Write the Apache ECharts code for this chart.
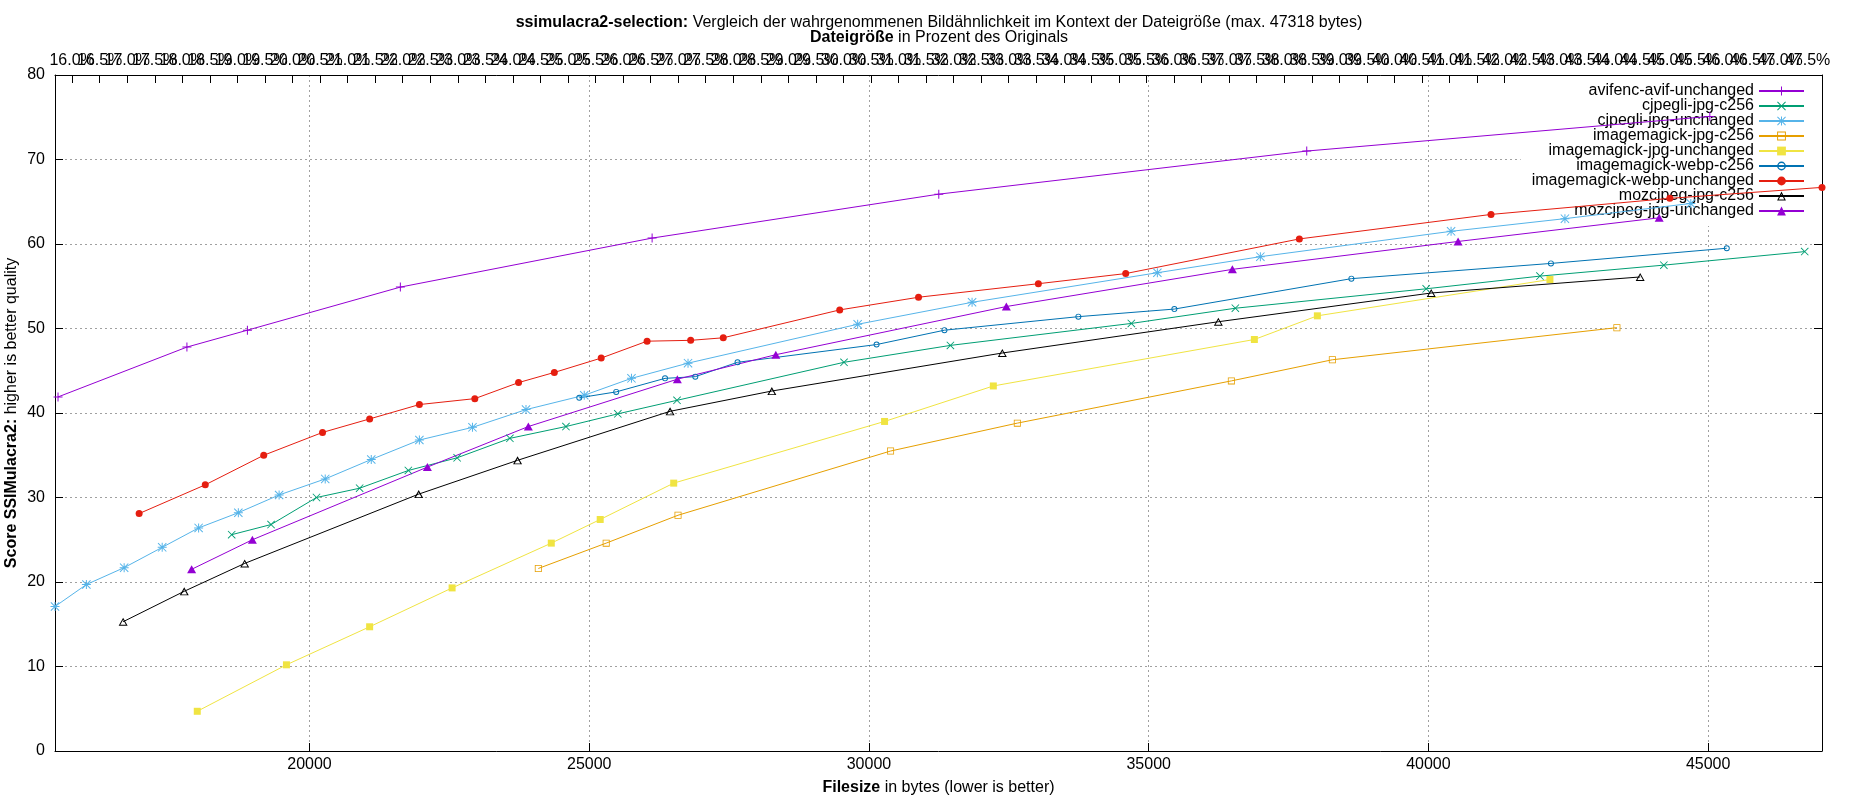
<!DOCTYPE html>
<html>
<head>
<meta charset="utf-8">
<title>ssimulacra2-selection</title>
<script src="https://cdn.jsdelivr.net/npm/echarts@6/dist/echarts.min.js"></script>
<style>
  html, body { margin: 0; padding: 0; background: #fff; }
  #chart { width: 1850px; height: 800px; }
</style>
</head>
<body>
<div id="chart"></div>
<script>
// Dateigröße (bytes) und Score je Encoder
var avifX = [15505, 17809, 18890, 21624, 26124, 31248, 37825, 45030];
var avifY = [41.9, 47.8, 49.8, 54.9, 60.7, 65.9, 71.0, 75.1];

var cjpegliC256X = [18609, 19313, 20125, 20896, 21767, 22639, 23582, 24584, 25511, 26569, 29554, 31456, 34690, 36549, 39960, 41994, 44208, 46726];
var cjpegliC256Y = [25.6, 26.8, 30.0, 31.1, 33.2, 34.7, 37.0, 38.4, 39.9, 41.5, 46.0, 48.0, 50.6, 52.4, 54.7, 56.2, 57.5, 59.1];

var cjpegliUnchX = [15451, 16012, 16687, 17367, 18018, 18728, 19457, 20281, 21104, 21964, 22913, 23870, 24911, 25755, 26766, 29798, 31843, 35155, 36996, 40405, 42440, 44690];
var cjpegliUnchY = [17.1, 19.7, 21.7, 24.1, 26.4, 28.2, 30.3, 32.2, 34.5, 36.8, 38.3, 40.4, 42.1, 44.1, 45.9, 50.5, 53.1, 56.6, 58.5, 61.5, 63.0, 64.8];

var imJpgC256X = [24090, 25303, 26587, 30386, 32652, 36478, 38283, 43369];
var imJpgC256Y = [21.6, 24.6, 27.9, 35.5, 38.8, 43.8, 46.3, 50.1];

var imJpgUnchX = [17994, 19588, 21075, 22549, 24322, 25196, 26510, 30279, 32223, 36889, 38015, 42172];
var imJpgUnchY = [4.7, 10.2, 14.7, 19.3, 24.6, 27.4, 31.7, 39.0, 43.2, 48.7, 51.5, 55.8];

var imWebpC256X = [24822, 25482, 26355, 26896, 27651, 30136, 31349, 33743, 35459, 38623, 42190, 45333];
var imWebpC256Y = [41.8, 42.5, 44.1, 44.3, 46.0, 48.1, 49.8, 51.4, 52.3, 55.9, 57.7, 59.5];

var imWebpUnchX = [16955, 18137, 19182, 20233, 21075, 21964, 22955, 23737, 24376, 25214, 26034, 26813, 27396, 29477, 30886, 33028, 34589, 37693, 41119, 44315, 47035];
var imWebpUnchY = [28.1, 31.5, 35.0, 37.7, 39.3, 41.0, 41.7, 43.6, 44.8, 46.5, 48.5, 48.6, 48.9, 52.2, 53.7, 55.3, 56.5, 60.6, 63.5, 65.4, 66.7];

var mozC256X = [16669, 17761, 18842, 21952, 23719, 26445, 28264, 32384, 36245, 40050, 43785];
var mozC256Y = [15.3, 18.9, 22.2, 30.4, 34.4, 40.2, 42.6, 47.1, 50.8, 54.2, 56.1];

var mozUnchX = [17893, 18979, 22107, 23912, 26575, 28335, 32456, 36496, 40530, 44125];
var mozUnchY = [21.5, 25.0, 33.6, 38.4, 44.0, 46.9, 52.6, 57.0, 60.3, 63.1];

// Achsen
var xMin = 15451;
var xMax = 47035;
var originalBytes = 98480;   // Bezug der oberen Prozentachse
var yTicks = [0, 10, 20, 30, 40, 50, 60, 70, 80];

// gnuplot-artige Punktsymbole (gefuellte Pfade, Loecher per Gegenrichtung)
var SYM_PLUS = 'path://M4,0H5V9H4ZM0,4H9V5H0Z';
var SYM_CROSS = 'path://M0,0.7L0.7,0L9,8.3L8.3,9ZM8.3,0L9,0.7L0.7,9L0,8.3Z';
var SYM_STAR = 'path://M4,0H5V9H4ZM0,4H9V5H0ZM0,0.7L0.7,0L9,8.3L8.3,9ZM8.3,0L9,0.7L0.7,9L0,8.3Z';
var SYM_OSQUARE = 'path://M0,0L9,0L9,9L0,9ZM1,1L1,8L8,8L8,1Z';
var SYM_OCIRCLE = 'path://M0,4.5A4.5,4.5,0,1,1,9,4.5A4.5,4.5,0,1,1,0,4.5ZM1.4,4.5A3.1,3.1,0,1,0,7.6,4.5A3.1,3.1,0,1,0,1.4,4.5Z';
var SYM_OTRI = 'path://M4.5,0L9,8L0,8ZM4.5,2.1L1.7,7.1L7.3,7.1Z';

function zip(xs, ys) {
    var out = [];
    for (var i = 0; i < xs.length; i++) {
        out.push([xs[i], ys[i]]);
    }
    return out;
}

function makeSeries(name, xs, ys, color, symbol, size) {
    return {
        name: name,
        type: 'line',
        xAxisIndex: 0,
        yAxisIndex: 0,
        data: zip(xs, ys),
        symbol: symbol,
        symbolSize: size,
        showAllSymbol: true,
        color: color,
        lineStyle: { color: color, width: 1 },
        itemStyle: { color: color },
        emphasis: { disabled: true },
        z: 3
    };
}

var seriesList = [
    makeSeries('avifenc-avif-unchanged', avifX, avifY, '#9400d3', SYM_PLUS, 9),
    makeSeries('cjpegli-jpg-c256', cjpegliC256X, cjpegliC256Y, '#009e73', SYM_CROSS, 8),
    makeSeries('cjpegli-jpg-unchanged', cjpegliUnchX, cjpegliUnchY, '#56b4e9', SYM_STAR, 9),
    makeSeries('imagemagick-jpg-c256', imJpgC256X, imJpgC256Y, '#e69f00', SYM_OSQUARE, 7),
    makeSeries('imagemagick-jpg-unchanged', imJpgUnchX, imJpgUnchY, '#f0e442', 'rect', 7),
    makeSeries('imagemagick-webp-c256', imWebpC256X, imWebpC256Y, '#0072b2', SYM_OCIRCLE, 6),
    makeSeries('imagemagick-webp-unchanged', imWebpUnchX, imWebpUnchY, '#e51e10', 'circle', 7),
    makeSeries('mozcjpeg-jpg-c256', mozC256X, mozC256Y, '#000000', SYM_OTRI, [9, 8]),
    makeSeries('mozcjpeg-jpg-unchanged', mozUnchX, mozUnchY, '#9400d3', 'triangle', [9, 8])
];

var FONT = '"Liberation Sans", Arial, sans-serif';
var FS = 16;
var boldRich = { b: { fontFamily: FONT, fontSize: FS, fontWeight: 'bold', color: '#000' } };
var gridLine = { show: true, lineStyle: { color: '#a0a0a0', width: 1, type: [2, 3] } };
var blackLine = { show: true, onZero: false, lineStyle: { color: '#000', width: 1 } };
var inTick = { show: true, inside: true, length: 8, lineStyle: { color: '#000' } };

var chart = echarts.init(document.getElementById('chart'), null, { renderer: 'canvas' });

var option = {
    backgroundColor: '#fff',
    animation: false,
    textStyle: { fontFamily: FONT },
    title: [
        {
            text: '{b|ssimulacra2-selection:} Vergleich der wahrgenommenen Bildähnlichkeit im Kontext der Dateigröße (max. 47318 bytes)',
            left: 939,
            top: 15,
            textAlign: 'center',
            padding: 0,
            textStyle: { fontFamily: FONT, fontSize: FS, fontWeight: 'normal', color: '#000', rich: boldRich }
        },
        {
            text: '{b|Dateigröße} in Prozent des Originals',
            left: 939,
            top: 30,
            textAlign: 'center',
            padding: 0,
            textStyle: { fontFamily: FONT, fontSize: FS, fontWeight: 'normal', color: '#000', rich: boldRich }
        }
    ],
    legend: {
        orient: 'vertical',
        align: 'right',
        right: 28,
        top: 76,
        padding: [7, 17, 7, 11],
        backgroundColor: '#fff',
        z: 2,
        itemWidth: 45,
        itemHeight: 11,
        itemGap: -1,
        selectedMode: false,
        textStyle: { fontFamily: FONT, fontSize: FS, color: '#000', lineHeight: 15 },
        data: seriesList.map(function (s) { return s.name; })
    },
    grid: { left: 55, right: 28, top: 75, bottom: 49, outerBoundsMode: 'none' },
    xAxis: [
        {
            type: 'value',
            position: 'bottom',
            min: xMin,
            max: xMax,
            minInterval: 5000,
            maxInterval: 5000,
            name: '{b|Filesize} in bytes (lower is better)',
            nameLocation: 'middle',
            nameGap: 29,
            nameTextStyle: { fontFamily: FONT, fontSize: FS, color: '#000', rich: boldRich },
            axisLine: blackLine,
            axisTick: inTick,
            axisLabel: {
                fontFamily: FONT, fontSize: FS, color: '#000', margin: 6,
                showMinLabel: false, showMaxLabel: false,
                formatter: function (v) { return String(v); }
            },
            splitLine: gridLine,
            z: 0
        },
        {
            type: 'value',
            position: 'top',
            min: xMin / originalBytes * 100,
            max: xMax / originalBytes * 100,
            minInterval: 0.5,
            maxInterval: 0.5,
            splitNumber: 64,
            axisLine: blackLine,
            axisTick: inTick,
            axisLabel: {
                fontFamily: FONT, fontSize: FS, color: '#000', margin: 6,
                showMinLabel: false, showMaxLabel: false,
                formatter: function (v) { return v.toFixed(1) + '%'; }
            },
            splitLine: { show: false },
            z: 0
        }
    ],
    yAxis: [
        {
            type: 'value',
            position: 'left',
            min: yTicks[0],
            max: yTicks[yTicks.length - 1],
            interval: 10,
            name: '{b|Score SSIMulacra2:} higher is better quality',
            nameLocation: 'middle',
            nameRotate: 90,
            nameGap: 35,
            nameMoveOverlap: false,
            nameTextStyle: { fontFamily: FONT, fontSize: FS, color: '#000', rich: boldRich },
            axisLine: blackLine,
            axisTick: inTick,
            axisLabel: { fontFamily: FONT, fontSize: FS, color: '#000', margin: 10 },
            splitLine: gridLine,
            z: 0
        },
        {
            type: 'value',
            position: 'right',
            min: yTicks[0],
            max: yTicks[yTicks.length - 1],
            interval: 10,
            axisLine: blackLine,
            axisTick: inTick,
            axisLabel: { show: false },
            splitLine: { show: false },
            z: 0
        }
    ],
    series: seriesList
};

chart.setOption(option);
</script>
</body>
</html>
